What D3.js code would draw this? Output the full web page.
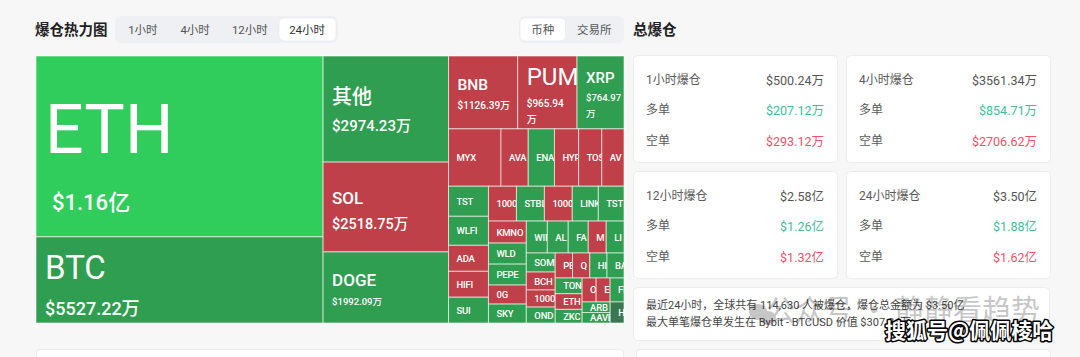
<!DOCTYPE html>
<html><head><meta charset="utf-8">
<script src="https://cdn.jsdelivr.net/npm/d3@7"></script>
<style>
html,body{margin:0;padding:0;background:#f7f7f7;}
svg{display:block;font-family:Roboto,"Noto Sans CJK SC",sans-serif;}
</style></head><body>
<svg id="c" width="1080" height="357"></svg>
<script>
// ---------- DATA ----------
const coins = ["ETH","BTC","其他","SOL","DOGE","BNB","PUMP","XRP",
  "MYX","AVAX","ENA","HYPE","TOSHI","AVNT",
  "TST","WLFI","ADA","HIFI","SUI",
  "1000BONK","STBL","1000SHIB","LINK","TSTBSC",
  "KMNO","WLD","PEPE","0G","SKY",
  "WIF","ALPACA","FARTCOIN","M","LINEA",
  "SOMI","BCH","1000FLOKI","ONDO",
  "PENGU","Q","HIPPO","BANK",
  "TON","ETHFI","ZKC",
  "OP","EIGEN","FIL",
  "ARB","AAVE","H"];
// 24h liquidation amount per coin, in 万 USD
const liqValues = [11600,5527.22,2974.23,2518.75,1992.09,1126.39,965.94,764.97,
  672,349,336,310,297,284,
  268,259,232,231,230,
  218,217.5,217,203,200,
  186,178,177,161,160,
  150,149,143,128,127,
  123,116,110,103,
  97,96.5,96,95,
  94.8,94,82,
  75,74.8,74.5,
  66,65.8,65];
// dominant side of liquidations: strong = heavy long, long, short, flat
const dominance = ["strong","long","long","short","long","short","short","long",
  "short","short","long","short","short","short",
  "long","long","short","short","long",
  "short","long","short","long","long",
  "short","long","long","short","long",
  "long","long","long","short","long",
  "long","short","short","long",
  "short","short","long","long",
  "long","short","long",
  "short","short","long",
  "long","long","flat"];
// treemap strips: number of coins per strip and strip direction (col = stacked, row = side by side)
const stripSizes = [2,3,3,6,5,5,5,5,4,4,3,3,2,1];
const stripDirs  = ["col","col","row","row","col","row","col","row","col","row","col","row","col","col"];

const timeTabs = ["1小时","4小时","12小时","24小时"];
const activeTime = "24小时";
const viewTabs = ["币种","交易所"];
const activeView = "币种";

const periodLabels = ["1小时爆仓","4小时爆仓","12小时爆仓","24小时爆仓"];
const periodTotals = [500.24,3561.34,25800,35000];
const periodLongs  = [207.12,854.71,12600,18800];
const periodShorts = [293.12,2706.62,13200,16200];
const summaryLines = ["最近24小时，全球共有 114,630 人被爆仓，爆仓总金额为 $3.50亿",
  "最大单笔爆仓单发生在 Bybit - BTCUSD 价值 $307.84万"];

// ---------- STYLE ----------
const sideColor = {strong:"#30cd5c", long:"#2f9e50", short:"#bf4048", flat:"#3a7752"};
const bigLabel = {
  "ETH":  {n:68, v:22, dy:11, vdx:7},
  "BTC":  {n:33, v:18, dy:5},
  "其他": {n:20, v:15, dy:1},
  "SOL":  {n:17, v:14.5, dy:3},
  "DOGE": {n:17, v:9.5, dy:2},
  "BNB":  {n:15.5, v:10, dy:1},
  "PUMP": {n:24, v:10, dy:3},
  "XRP":  {n:15, v:9.5, dy:2}
};
const fmt = v => v >= 10000 ? "$" + (v/10000).toFixed(2) + "亿" : "$" + v.toFixed(2) + "万";

const svg = d3.select("#c");

// fit a label into the width available in its cell (the cell clips the rest)
function fitText(sel, str, avail) {
  sel.text(str);
  let s = str;
  while (s.length > 1 && sel.node().getComputedTextLength() > avail) {
    s = s.slice(0, -1); sel.text(s);
  }
}

// ---------- HEADER ----------
svg.append("text").attr("x",35).attr("y",30).attr("dominant-baseline","central")
  .attr("font-size",14.5).attr("font-weight",700).attr("fill","#222").text("爆仓热力图");

(function(){
  const x0 = 115, y0 = 16, h = 27;
  svg.append("rect").attr("x",x0).attr("y",y0).attr("width",223).attr("height",h).attr("rx",6).attr("fill","#eef0f3");
  const band = d3.scaleBand().domain(timeTabs).range([117, 336]);
  const ai = timeTabs.indexOf(activeTime);
  svg.append("rect").attr("x",279).attr("y",y0+2).attr("width",57).attr("height",h-4).attr("rx",5)
    .attr("fill","#fff").attr("stroke","#e6e8eb").attr("stroke-width",0.6);
  svg.selectAll(null).data(timeTabs).join("text")
    .attr("x", (d,i) => band(d) + band.bandwidth()/2 - [1.5,4,4,1.5][i]).attr("y", y0+h/2)
    .attr("text-anchor","middle").attr("dominant-baseline","central")
    .attr("font-size",11.5).attr("fill", (d,i)=> i===ai ? "#333" : "#555").text(d => d);
})();
(function(){
  const x0 = 519, x1 = 624, y0 = 16, h = 27;
  svg.append("rect").attr("x",x0).attr("y",y0).attr("width",x1-x0).attr("height",h).attr("rx",6).attr("fill","#eef0f3");
  const band = d3.scaleBand().domain(viewTabs).range([x0+1, x1-1]);
  svg.append("rect").attr("x",band(activeView)).attr("y",y0+2).attr("width",band.bandwidth()-6).attr("height",h-4)
    .attr("rx",5).attr("fill","#fff").attr("stroke","#e6e8eb").attr("stroke-width",0.6);
  svg.selectAll(null).data(viewTabs).join("text")
    .attr("x", (d,i) => band(d) + band.bandwidth()/2 - 3).attr("y", y0+h/2)
    .attr("text-anchor","middle").attr("dominant-baseline","central")
    .attr("font-size",11.5).attr("fill","#555").text(d => d);
})();

svg.append("text").attr("x",633).attr("y",30).attr("dominant-baseline","central")
  .attr("font-size",14.5).attr("font-weight",700).attr("fill","#222").text("总爆仓");

// ---------- TREEMAP ----------
const W = 588, H = 267;
const leaves = coins.map((c,i) => ({name:c, value:liqValues[i], side:dominance[i]}));
const root = d3.hierarchy({children: leaves}).sum(d => d.value || 0);

function stripTile(parent, x0, y0, x1, y1) {
  const nodes = parent.children;
  let value = parent.value, i0 = 0;
  stripSizes.forEach((k, s) => {
    const row = nodes.slice(i0, i0 + k);
    if (!row.length) return;
    const sum = d3.sum(row, d => d.value);
    const strip = {children: row, value: sum};
    if (stripDirs[s] === "row") {
      const yy = value ? y0 + (y1 - y0) * sum / value : y1;
      d3.treemapDice(strip, x0, y0, x1, yy); y0 = yy;
    } else {
      const xx = value ? x0 + (x1 - x0) * sum / value : x1;
      d3.treemapSlice(strip, x0, y0, xx, y1); x0 = xx;
    }
    value -= sum; i0 += k;
  });
}
d3.treemap().size([W,H]).tile(stripTile)(root);

const tg = svg.append("g").attr("transform","translate(36,56)");
const cells = tg.selectAll("g.cell").data(root.leaves()).join("g").attr("class","cell")
  .attr("transform", d => `translate(${d.x0},${d.y0})`);
cells.append("clipPath").attr("id",(d,i)=>"cl"+i).append("rect")
  .attr("width", d => d.x1-d.x0).attr("height", d => d.y1-d.y0);
cells.append("rect").attr("width", d => d.x1-d.x0).attr("height", d => d.y1-d.y0)
  .attr("fill", d => sideColor[d.data.side])
  .attr("stroke","rgba(255,255,255,0.6)").attr("stroke-width",1);

cells.each(function(d,i){
  const g = d3.select(this).append("g").attr("clip-path", `url(#cl${i})`);
  const w = d.x1-d.x0, h = d.y1-d.y0;
  const st = bigLabel[d.data.name];
  const pad = 9;
  if (!st) {
    const t = g.append("text").attr("x",8).attr("y",h/2).attr("dominant-baseline","central")
      .attr("font-size",9.5).attr("font-weight",500).attr("letter-spacing",-0.2).attr("fill","#fff");
    fitText(t, d.data.name, w - 8 + 3);
    return;
  }
  const capH = 0.72*st.n, gap = 0.45*st.n + 1.2*st.v;
  const vt = fmt(d.data.value);
  const probe = g.append("text").attr("font-size",st.v).attr("font-weight",500).text(vt);
  const needWrap = probe.node().getComputedTextLength() > w - pad - 4;
  probe.remove();
  const extra = needWrap ? st.v*1.6 : 0;
  const blockH = capH + gap + extra;
  const cy = h/2 + (st.dy||0);
  const nb = cy - blockH/2 + capH;
  const nt = g.append("text").attr("x",pad).attr("y",nb).attr("font-size",st.n)
    .attr("font-weight", st.n > 19 && d.data.name !== "其他" ? 400 : 500)
    .attr("fill","#fff");
  fitText(nt, d.data.name, w - pad + 4);
  const vx = pad + (st.vdx||0);
  if (needWrap) {
    const num = vt.slice(0,-1), unit = vt.slice(-1);
    const t = g.append("text").attr("font-size",st.v).attr("font-weight",500).attr("fill","#fff");
    t.append("tspan").attr("x",vx).attr("y",nb+gap).text(num);
    t.append("tspan").attr("x",vx).attr("y",nb+gap+extra).text(unit);
  } else {
    g.append("text").attr("x",vx).attr("y",nb+gap).attr("font-size",st.v)
      .attr("font-weight",500).attr("fill","#fff").text(vt);
  }
});

// ---------- CARDS ----------
const green = "#3cc19a", red = "#f2516a";
periodLabels.forEach((lab,i) => {
  const cx = 633 + (i%2)*213, cy = 55 + Math.floor(i/2)*116;
  svg.append("rect").attr("x",cx+0.5).attr("y",cy+0.5).attr("width",204).attr("height",107)
    .attr("rx",4).attr("fill","#fff").attr("stroke","#ececec");
  const rows = [[lab, fmt(periodTotals[i]), "#555"],["多单", fmt(periodLongs[i]), green],["空单", fmt(periodShorts[i]), red]];
  const ys = [25,55,86];
  rows.forEach((r,j) => {
    svg.append("text").attr("x",cx+13).attr("y",cy+ys[j]).attr("dominant-baseline","central")
      .attr("font-size",12).attr("fill","#5a5a5a").text(r[0]);
    svg.append("text").attr("x",cx+191).attr("y",cy+ys[j]).attr("dominant-baseline","central")
      .attr("text-anchor","end").attr("font-size",12.5).attr("fill",r[2]).text(r[1]);
  });
});
svg.append("rect").attr("x",633.5).attr("y",287.5).attr("width",416).attr("height",53)
  .attr("rx",4).attr("fill","#fff").attr("stroke","#ececec");
summaryLines.forEach((s,i) => {
  svg.append("text").attr("x",646).attr("y",305+i*17).attr("dominant-baseline","central")
    .attr("font-size",11).attr("fill","#444").text(s);
});
svg.append("rect").attr("x",36.5).attr("y",349.5).attr("width",587).attr("height",30)
  .attr("rx",4).attr("fill","#fff").attr("stroke","#ececec");
svg.append("rect").attr("x",636.5).attr("y",349.5).attr("width",414).attr("height",30)
  .attr("rx",4).attr("fill","#fff").attr("stroke","#ececec");

// ---------- WATERMARKS ----------
const wm = svg.append("g").attr("opacity",0.22);
wm.append("ellipse").attr("cx",758).attr("cy",312).attr("rx",9).attr("ry",8).attr("fill","#000");
wm.append("ellipse").attr("cx",768).attr("cy",318).attr("rx",8).attr("ry",7).attr("fill","#000");
wm.append("text").attr("x",766).attr("y",321).attr("font-size",29).attr("fill","#000")
  .attr("font-family","'Noto Sans CJK SC',sans-serif").text("公众号 · 静静看趋势");
svg.append("text").attr("x",885).attr("y",338).attr("font-size",21).attr("font-weight",700)
  .attr("font-family","'Noto Sans CJK SC',sans-serif")
  .attr("fill","#fff").attr("stroke","#000").attr("stroke-width",3).attr("paint-order","stroke")
  .attr("stroke-linejoin","round").text("搜狐号@佩佩棱哈");
</script>
</body></html>
